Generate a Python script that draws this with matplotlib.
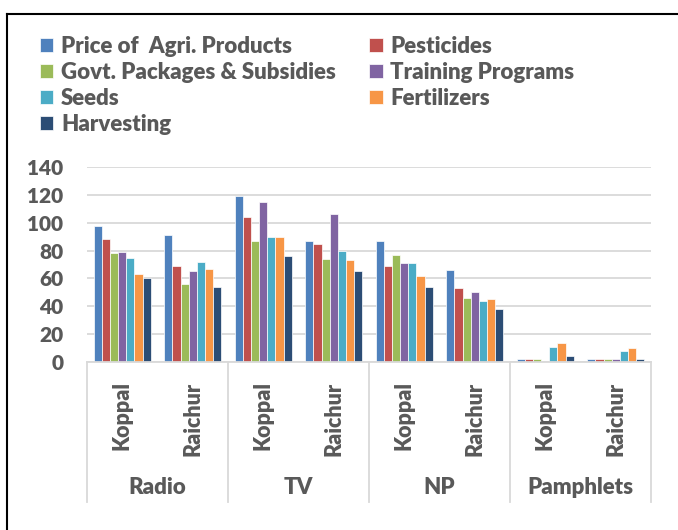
import matplotlib
matplotlib.use('Agg')
import matplotlib.pyplot as plt
import numpy as np
from matplotlib.lines import Line2D

plt.rcParams['font.family'] = ['Lato', 'DejaVu Sans']
plt.rcParams['font.weight'] = 'heavy'

# ---- data ----
media = ['Radio', 'TV', 'NP', 'Pamphlets']
districts = ['Koppal', 'Raichur']
series = ['Price of  Agri. Products', 'Pesticides', 'Govt. Packages & Subsidies',
          'Training Programs', 'Seeds', 'Fertilizers', 'Harvesting']
# one list per series, order: Radio-K, Radio-R, TV-K, TV-R, NP-K, NP-R, Pam-K, Pam-R
price      = [98, 91, 119, 87, 87, 66, 2, 2]
pesticides = [88, 69, 104, 85, 69, 53, 2, 2]
govt       = [78, 56, 87, 74, 77, 46, 2, 2]
training   = [79, 65, 115, 106, 71, 50, 0, 2]
seeds      = [75, 72, 90, 80, 71, 44, 11, 8]
fertilizer = [63, 67, 90, 73, 62, 45, 14, 10]
harvesting = [60, 54, 76, 65, 54, 38, 4, 2]
values = [price, pesticides, govt, training, seeds, fertilizer, harvesting]
colors = ['#4F81BD', '#C0504D', '#9BBB59', '#8064A2', '#4BACC6', '#F79646', '#2C4D75']

txt = '#595959'
W, H = 678, 530
fig = plt.figure(figsize=(W / 100, H / 100), dpi=100)

# plot area in pixels: x 87..651, y(0)=362, y(140)=167
ax = fig.add_axes([87 / W, 1 - 362 / H, (651 - 87) / W, (362 - 167) / H])

n_cat = len(media) * len(districts)
x = np.arange(n_cat)
cluster = 0.81
bw = cluster / len(series)
bars = []
for i, (name, vals) in enumerate(zip(series, values)):
    off = -cluster / 2 + bw * (i + 0.5)
    b = ax.bar(x + off, vals, width=bw, color=colors[i], edgecolor='white',
               linewidth=0.5, label=name, zorder=3)
    bars.append(b)

ax.set_xlim(-0.5, n_cat - 0.5)
ax.set_ylim(0, 140)
ax.set_yticks(np.arange(0, 141, 20))
ax.tick_params(axis='y', length=0, pad=17, labelsize=15, labelcolor=txt)
ax.set_xticks([])
for lab in ax.get_yticklabels():
    lab.set_fontweight('heavy')
ax.grid(axis='y', color='#D9D9D9', linewidth=1.3, zorder=0)
for s in ['top', 'right', 'left']:
    ax.spines[s].set_visible(False)
ax.spines['bottom'].set_color('#D9D9D9')
ax.spines['bottom'].set_linewidth(1.3)
ax.spines['bottom'].set_zorder(4)

# two-level category axis
tr = ax.get_xaxis_transform()
for k in range(n_cat):
    ax.text(x[k], -0.1, districts[k % 2], transform=tr, rotation=90,
            ha='center', va='top', fontsize=15.5, color=txt)
for g, m in enumerate(media):
    ax.text(2 * g + 0.5, -0.642, m, transform=tr, ha='center', va='center',
            fontsize=16, color=txt)
for sep in np.arange(-0.5, n_cat, 2):
    ax.add_line(Line2D([sep, sep], [0, -0.72], transform=tr, color='#D9D9D9',
                       linewidth=1.3, clip_on=False))

# legend laid out row-wise in two columns
order = [0, 2, 4, 6, 1, 3, 5]
fig.legend([bars[i] for i in order], [series[i] for i in order], ncol=2,
           loc='upper left', bbox_to_anchor=(40 / W, 1 - 36 / H), frameon=False,
           fontsize=16, labelcolor=txt, handlelength=0.6, handleheight=0.6,
           handletextpad=0.35, columnspacing=1.5, labelspacing=0.22,
           borderaxespad=0, borderpad=0)

# outer chart border
fig.add_artist(Line2D([7 / W, 7 / W], [0, 1 - 14 / H], color='black', linewidth=1.5))
fig.add_artist(Line2D([7 / W, 1], [1 - 14 / H, 1 - 14 / H], color='black', linewidth=1.5))

fig.savefig('out.png', dpi=100, facecolor='white')
